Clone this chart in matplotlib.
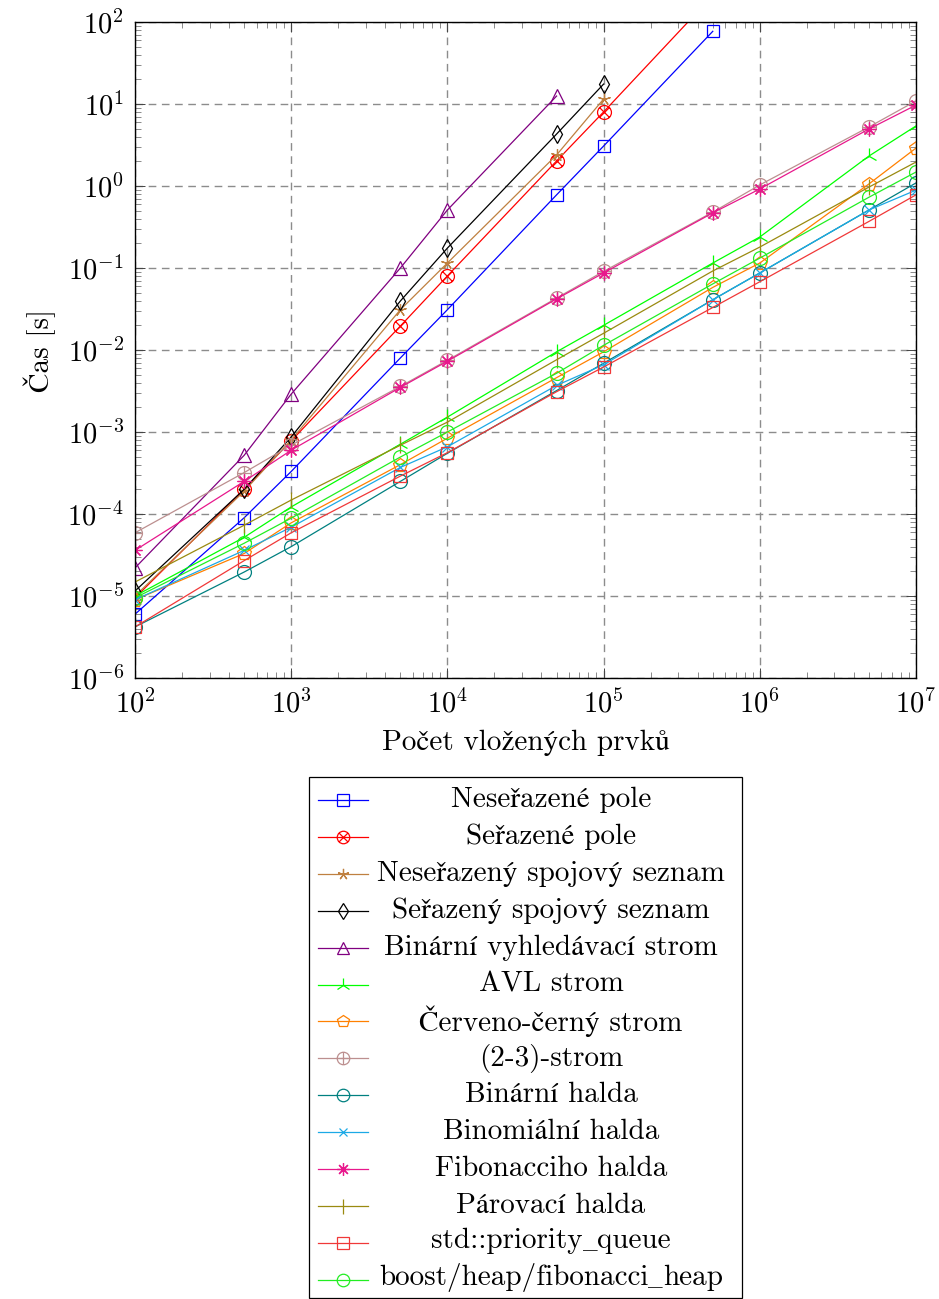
import numpy as np
import matplotlib
matplotlib.use("Agg")
import matplotlib.pyplot as plt
from matplotlib.path import Path
from matplotlib.lines import Line2D
from matplotlib.patches import Rectangle
from matplotlib.offsetbox import TextArea, HPacker, AnnotationBbox

plt.rcParams['font.family'] = ['cmr10', 'STIXGeneral', 'DejaVu Serif']
plt.rcParams['mathtext.fontset'] = 'cm'
plt.rcParams['axes.formatter.use_mathtext'] = True
plt.rcParams['font.size'] = 21

# ---------------- data ----------------
n_values = [1e2, 5e2, 1e3, 5e3, 1e4, 5e4, 1e5, 5e5, 1e6, 5e6, 1e7]

labels = [
    "Neseřazené pole",
    "Seřazené pole",
    "Neseřazený spojový seznam",
    "Seřazený spojový seznam",
    "Binární vyhledávací strom",
    "AVL strom",
    "Červeno-černý strom",
    "(2-3)-strom",
    "Binární halda",
    "Binomiální halda",
    "Fibonacciho halda",
    "Párovací halda",
    "std::priority_queue",
    "boost/heap/fibonacci_heap",
]

unsorted_array = [6.0e-6, 9.0e-5, 3.3e-4, 8.0e-3, 0.031, 0.78, 3.07, 77]
sorted_array = [9.5e-6, 2.0e-4, 7.8e-4, 0.0196, 0.080, 2.02, 8.0, 210]
unsorted_list = [1.0e-5, 1.9e-4, 8.0e-4, 0.031, 0.115, 2.39, 11.5]
sorted_list = [1.15e-5, 2.0e-4, 8.7e-4, 0.0396, 0.175, 4.3, 17.5]
bst = [2.2e-5, 5.2e-4, 2.9e-3, 0.1, 0.51, 12.5]
avl = [1.0e-5, 5.2e-5, 1.22e-4, 7.1e-4, 1.52e-3, 9.5e-3, 0.020, 0.115, 0.239, 2.32, 5.4]
red_black = [9.0e-6, 3.3e-5, 7.8e-5, 4.0e-4, 8.4e-4, 4.6e-3, 9.5e-3, 0.058, 0.115, 1.06, 2.9]
tree23 = [5.9e-5, 3.2e-4, 6.9e-4, 3.6e-3, 7.5e-3, 0.043, 0.091, 0.48, 1.03, 5.25, 10.9]
binary_heap = [4.2e-6, 1.96e-5, 4.0e-5, 2.5e-4, 5.5e-4, 3.2e-3, 6.9e-3, 0.041, 0.087, 0.51, 1.09]
binomial_heap = [9.0e-6, 3.6e-5, 6.9e-5, 3.7e-4, 6.6e-4, 3.7e-3, 6.6e-3, 0.041, 0.087, 0.51, 0.89]
fibonacci_heap = [3.6e-5, 2.5e-4, 6.0e-4, 3.5e-3, 7.3e-3, 0.042, 0.087, 0.47, 0.92, 4.96, 9.7]
pairing_heap = [1.48e-5, 7.3e-5, 1.48e-4, 6.9e-4, 1.32e-3, 7.6e-3, 0.016, 0.092, 0.18, 0.97, 1.96]
std_pq = [4.2e-6, 2.7e-5, 5.9e-5, 2.9e-4, 5.6e-4, 3.1e-3, 6.2e-3, 0.033, 0.068, 0.37, 0.78]
boost_fib = [9.5e-6, 4.4e-5, 8.9e-5, 4.95e-4, 1.0e-3, 5.2e-3, 0.0114, 0.064, 0.132, 0.73, 1.48]

series = [unsorted_array, sorted_array, unsorted_list, sorted_list, bst, avl, red_black,
          tree23, binary_heap, binomial_heap, fibonacci_heap, pairing_heap, std_pq, boost_fib]

# ---------------- styles ----------------
d = np.sqrt(0.5)
circle = Path.unit_circle()
xcross = Path([(-d, -d), (d, d), (-d, d), (d, -d)],
              [Path.MOVETO, Path.LINETO, Path.MOVETO, Path.LINETO])
pluscross = Path([(-1, 0), (1, 0), (0, -1), (0, 1)],
                 [Path.MOVETO, Path.LINETO, Path.MOVETO, Path.LINETO])
otimes = Path.make_compound_path(circle, xcross)
oplus = Path.make_compound_path(circle, pluscross)

colors = ['#0000ff', '#ff0000', '#bf8040', '#000000', '#800080', '#00ff00', '#ff8000',
          '#bc8f8f', '#008080', '#1ca9e6', '#e8188c', '#9a8a10', '#f03838', '#22ee22']
markers = ['s', otimes, (5, 2, 0), 'd', '^', '2', 'p', oplus, 'o', 'x', (8, 2, 0), '|', 's', 'o']
msizes = [9, 10, 9, 9, 10, 12, 10, 10, 10, 7, 10, 12, 9, 10]

W, H = 939, 1299
fig = plt.figure(figsize=(W / 100, H / 100), dpi=100)
ax = fig.add_axes([135 / W, 1 - 678 / H, 781 / W, 656 / H])

for vals, col, mk, ms in zip(series, colors, markers, msizes):
    xs = n_values[:len(vals)]
    ax.plot(xs, vals, color=col, lw=0.9, marker=mk, ms=ms, mfc='none', mec=col, mew=0.9)

ax.set_xscale('log')
ax.set_yscale('log')
ax.set_xlim(1e2, 1e7)
ax.set_ylim(1e-6, 1e2)
ax.set_yticks([10.0 ** k for k in range(-6, 3)])
ax.set_xticks([10.0 ** k for k in range(2, 8)])
ax.grid(True, which='major', color='#8c8c8c', lw=1.0, linestyle=(0, (5.5, 4)))
ax.tick_params(which='both', direction='in', top=True, right=True, labelsize=20.5)
ax.tick_params(which='major', length=7, width=0.7, pad=8, color='#444444')
ax.tick_params(which='minor', length=4.5, width=0.6, color='#777777')
for s in ax.spines.values():
    s.set_linewidth(1.0)
ax.set_xlabel("Počet vložených prvků", fontsize=21, labelpad=8)
ax.set_ylabel("Čas [s]", fontsize=21, labelpad=8)

# ---------------- legend (centered text, like pgfplots) ----------------
box_l, box_r, box_t, box_b = 309, 742, 777, 1298
fig.add_artist(Rectangle((box_l / W, 1 - box_b / H), (box_r - box_l) / W, (box_b - box_t) / H,
                         transform=fig.transFigure, fill=False, ec='black', lw=0.9))
row0, step = 800, 36.9
for i, (lab, col, mk, ms) in enumerate(zip(labels, colors, markers, msizes)):
    yy = 1 - (row0 + i * step) / H
    fig.add_artist(Line2D([318 / W, 368 / W], [yy, yy], transform=fig.transFigure,
                          color=col, lw=0.9))
    fig.add_artist(Line2D([343 / W], [yy], transform=fig.transFigure, color=col,
                          marker=mk, ms=ms * 0.9, mfc='none', mec=col, mew=0.9, lw=0))
    if '_' in lab:
        parts = lab.split('_')
        boxes = []
        for j, p in enumerate(parts):
            if j > 0:
                boxes.append(TextArea('_', textprops=dict(fontsize=21, family='STIXGeneral')))
            boxes.append(TextArea(p, textprops=dict(fontsize=21)))
        pack = HPacker(children=boxes, align='baseline', pad=0, sep=0)
        ab = AnnotationBbox(pack, (551 / W, yy), xycoords='figure fraction',
                            frameon=False, box_alignment=(0.5, 0.42), pad=0)
        fig.add_artist(ab)
    else:
        fig.text(551 / W, yy, lab, ha='center', va='center', fontsize=21)

fig.savefig("out.png", dpi=100)
